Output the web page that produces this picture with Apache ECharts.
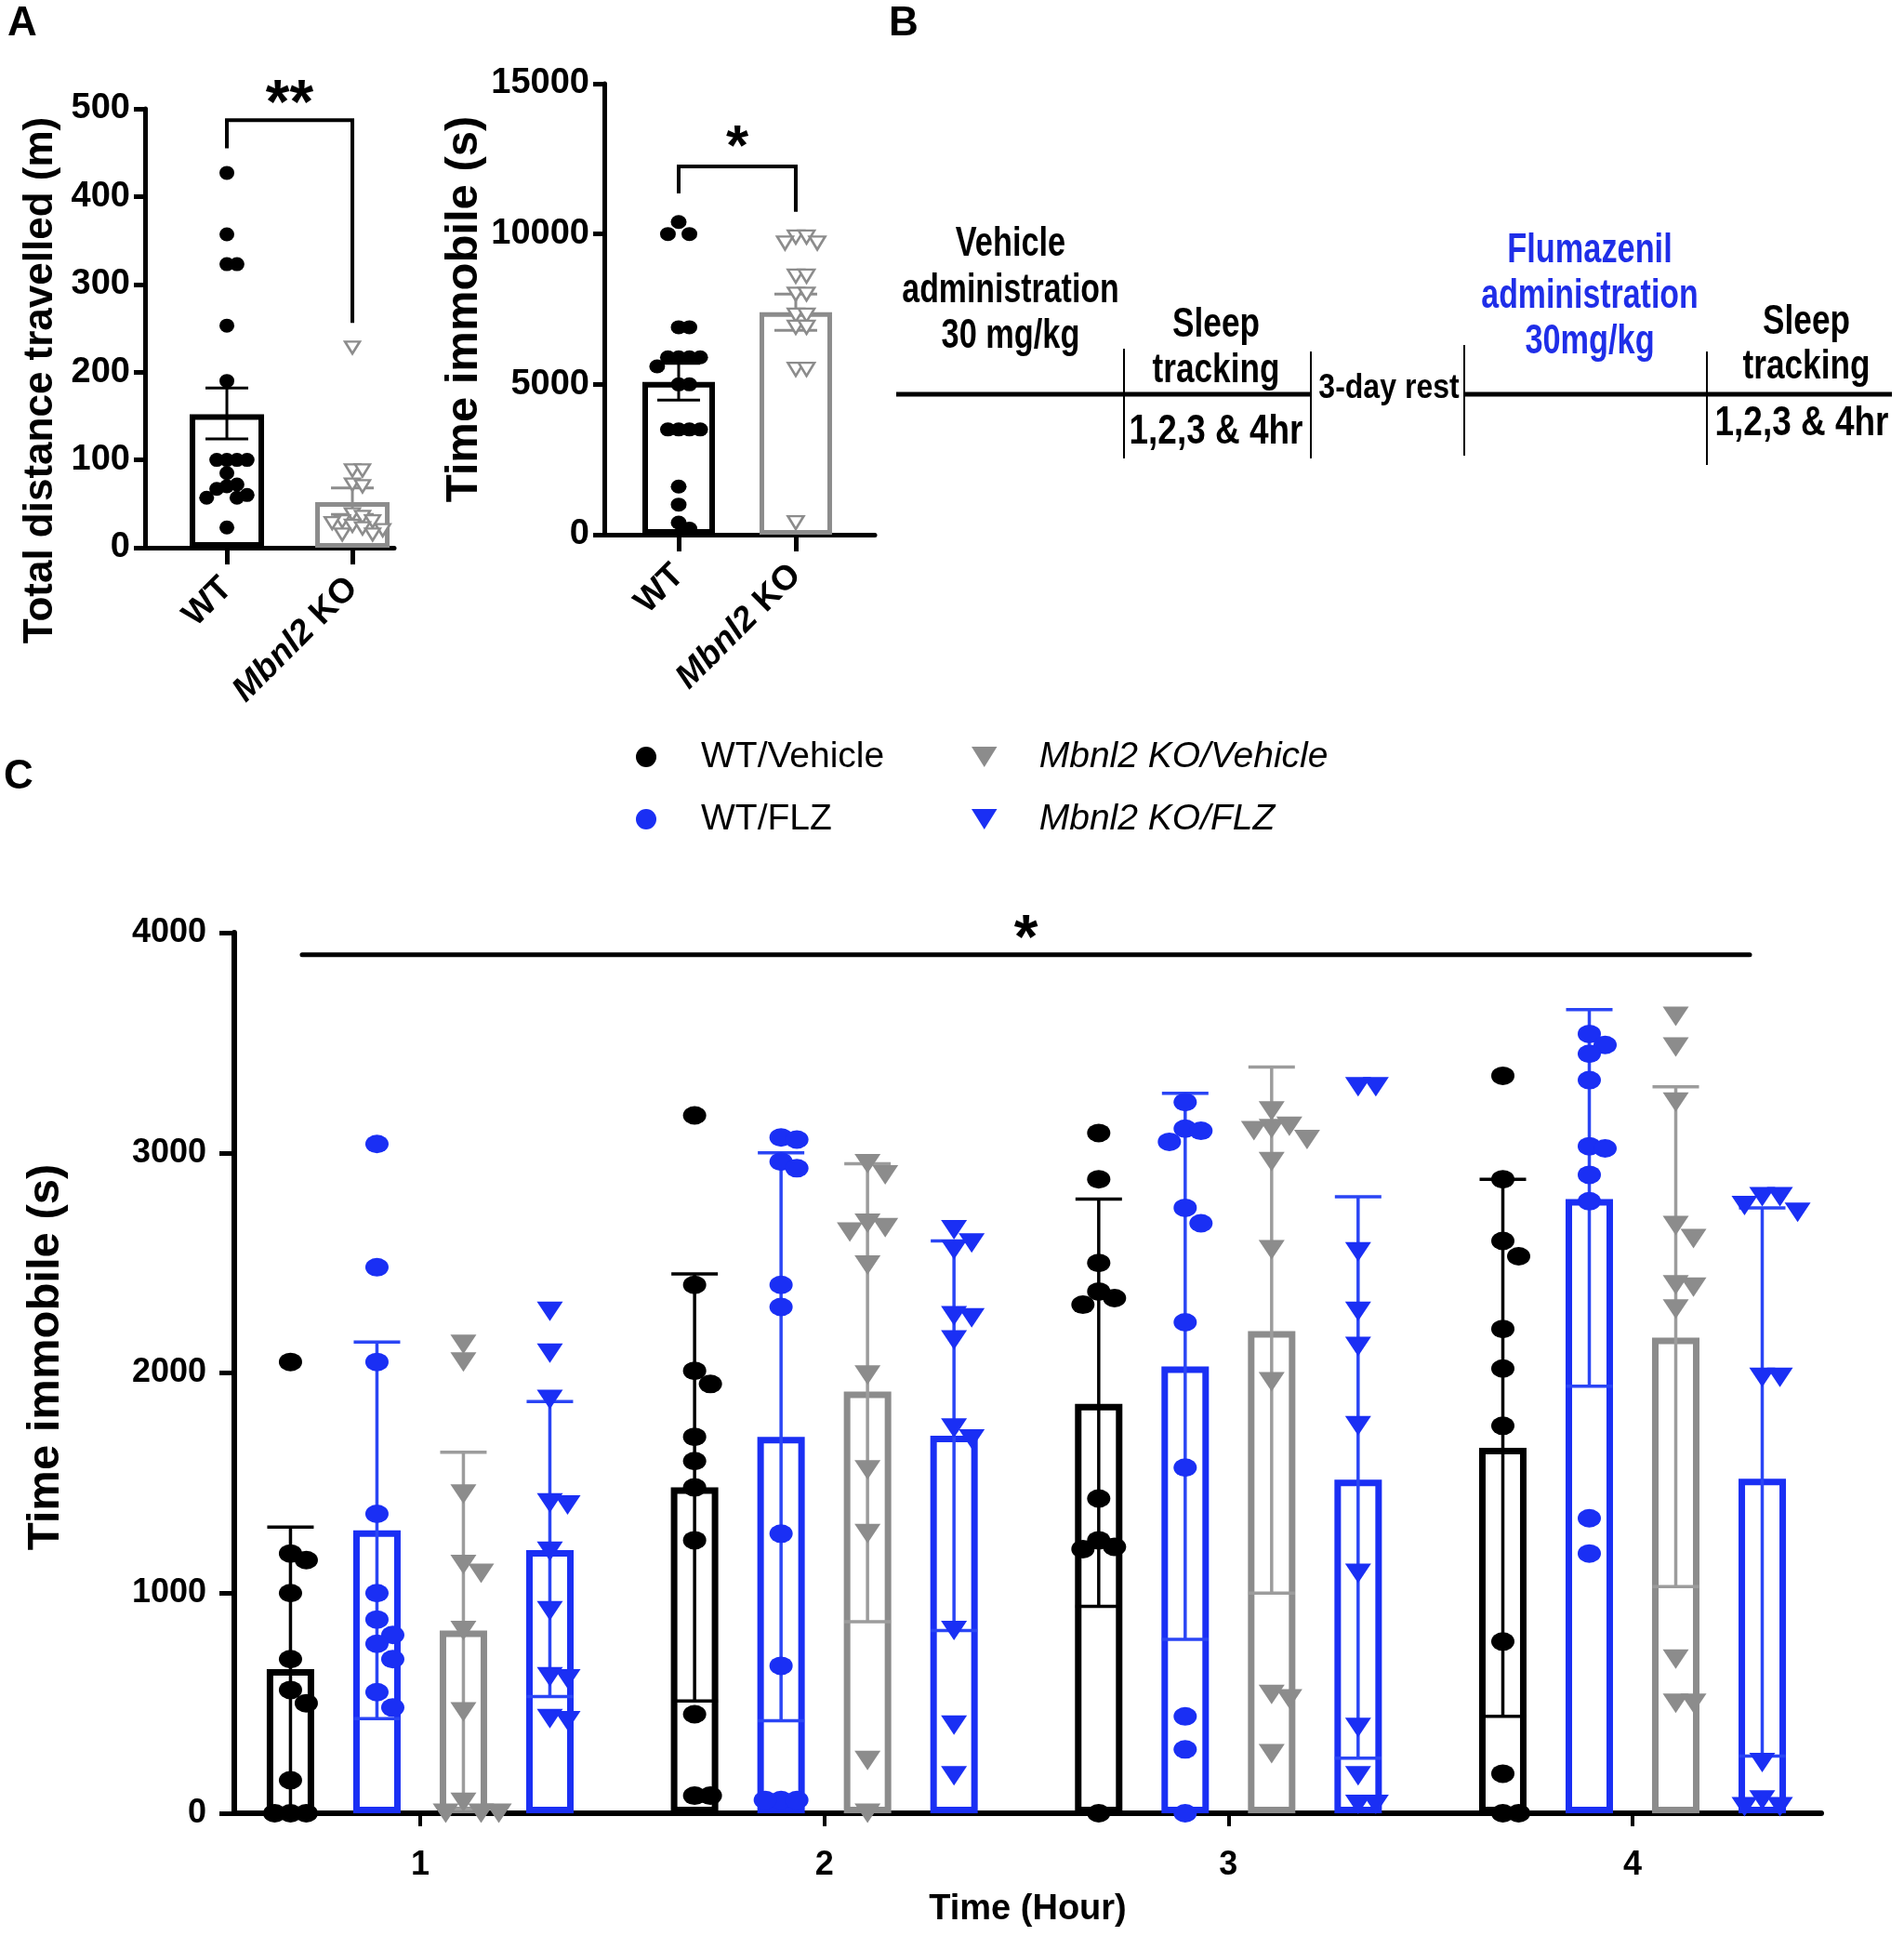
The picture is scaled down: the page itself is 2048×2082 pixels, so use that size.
<!DOCTYPE html>
<html><head><meta charset="utf-8">
<script src="https://cdn.jsdelivr.net/npm/echarts@6/dist/echarts.min.js"></script>
<style>html,body{margin:0;padding:0;background:#fff}#c{width:2048px;height:2082px}</style>
</head><body><div id="c"></div><script>
// ---------- DATA ----------
// Panel A (left): total distance travelled (m)
const distGroups = ['WT', 'Mbnl2 KO'];
const distWT = [427, 357, 323, 323, 253, 190, 100, 100, 100, 100, 85, 72, 70, 67, 60, 57, 57, 23];
const distKO = [228, 88, 88, 72, 70, 38, 35, 30, 30, 28, 25, 22, 20, 15, 15];
const distMean = [152, 52];
const distErrLow = [124, 38];
const distErrHigh = [182, 68];
const distSig = {from: 1, to: 2, top: 487, leftEnd: 455, rightEnd: 256, label: '**'};

// Panel A (right): time immobile (s)
const immGroups = ['WT', 'Mbnl2 KO'];
const immWT = [10400, 10000, 10000, 6900, 6900, 5900, 5900, 5900, 5900, 5600, 5000, 5000, 3500, 3500, 3500, 3500, 1600, 1000, 400, 200];
const immKO = [9900, 9900, 9700, 9700, 8600, 8600, 8000, 8000, 7300, 7300, 6900, 6900, 5500, 5500, 400];
const immMean = [5080, 7400];
const immErrLow = [4480, 6800];
const immErrHigh = [5700, 8000];
const immSig = {from: 1, to: 2, top: 12250, leftEnd: 11350, rightEnd: 10740, label: '*'};

// Panel C: time immobile per hour
const hours = [1, 2, 3, 4];
const groupNames = ['WT/Vehicle', 'WT/FLZ', 'Mbnl2 KO/Vehicle', 'Mbnl2 KO/FLZ'];
const wtVehiclePts = [
  [2050, 1180, 1150, 1000, 700, 560, 500, 150, 0, 0, 0],
  [3170, 2400, 2010, 1950, 1710, 1600, 1480, 1240, 450, 80, 80],
  [3090, 2880, 2500, 2370, 2340, 2310, 1430, 1240, 1210, 1200, 0],
  [3350, 2880, 2600, 2530, 2200, 2020, 1760, 780, 180, 0, 0]
];
const wtFlzPts = [
  [3040, 2480, 2050, 1360, 1000, 880, 810, 770, 700, 550, 480],
  [3070, 3060, 2960, 2930, 2400, 2300, 1270, 670, 60, 60, 60],
  [3230, 3110, 3100, 3050, 2750, 2680, 2230, 1570, 440, 290, 0],
  [3540, 3490, 3450, 3330, 3030, 3020, 2900, 2780, 1340, 1180]
];
const koVehiclePts = [
  [2130, 2050, 1450, 1130, 1090, 830, 460, 50, 0, 0, 0],
  [2950, 2900, 2680, 2660, 2640, 2490, 1990, 1560, 1270, 240, 0],
  [3190, 3120, 3110, 3100, 3060, 2960, 2560, 1960, 540, 520, 270],
  [3620, 3480, 3230, 2670, 2610, 2400, 2390, 2290, 700, 500, 500]
];
const koFlzPts = [
  [2280, 2090, 1880, 1410, 1400, 1190, 920, 620, 610, 430, 420],
  [2650, 2590, 2560, 2260, 2250, 2150, 1750, 1700, 830, 400, 170],
  [3300, 3300, 2550, 2280, 2120, 1760, 1090, 390, 170, 40, 40],
  [2800, 2800, 2760, 2730, 1980, 1980, 230, 60, 30, 30]
];
const wtVehicleMean = [655, 1480, 1860, 1660];
const wtFlzMean = [1285, 1710, 2030, 2790];
const koVehicleMean = [830, 1915, 2190, 2160];
const koFlzMean = [1195, 1715, 1515, 1520];
const wtVehicleErrLow = [10, 510, 940, 440];
const wtVehicleErrHigh = [1300, 2450, 2790, 2880];
const wtFlzErrLow = [430, 420, 790, 1940];
const wtFlzErrHigh = [2140, 3000, 3270, 3650];
const koVehicleErrLow = [20, 870, 1000, 1030];
const koVehicleErrHigh = [1640, 2950, 3390, 3300];
const koFlzErrLow = [530, 830, 250, 260];
const koFlzErrHigh = [1870, 2600, 2800, 2750];
const hourSig = {from: 1, to: 4, top: 3900, label: '*'};

// ---------- STYLE / LAYOUT ----------
const FONT = '"Liberation Sans", Arial, sans-serif';
const BLACK = '#000000', BLUE = '#1a2ff4', GRAY = '#8c8c8c';
const BLUE_ERR = '#2a45f5', GRAY_ERR = '#9c9c9c';
const GA1 = {left: 156, top: 117, width: 268, height: 472};
const GA2 = {left: 650, top: 90, width: 291, height: 485};
const GC = {left: 252, top: 1003, width: 1707, height: 947};
const A1_Y = [0, 500], A2_Y = [0, 15000], C_Y = [0, 4000];
const BAR_W_C = 51, STEP_C = 93;

// simple beeswarm: horizontal pixel offsets so that points do not overlap
function swarm(vals, pxPerUnit, w, h) {
  const order = vals.map((v, i) => i).sort((a, b) => vals[b] - vals[a]);
  const placed = [], off = new Array(vals.length).fill(0);
  const s = w * 0.68;
  for (const i of order) {
    const y = vals[i] * pxPerUnit;
    for (let k = 0; k < 60; k++) {
      const dx = k === 0 ? 0 : (k % 2 ? 1 : -1) * Math.ceil(k / 2) * s;
      if (placed.every(p => Math.abs(p.y - y) >= h * 0.9 || Math.abs(p.x - dx) >= w * 0.66)) {
        off[i] = dx; placed.push({x: dx, y}); break;
      }
    }
  }
  return off;
}
function pointData(x, vals, pxPerUnit, w, h, baseDx) {
  const off = swarm(vals, pxPerUnit, w, h);
  return vals.map((v, i) => ({value: [x, v], symbolOffset: [baseDx + off[i], 0]}));
}
function errRender(dx, color, lw, cap) {
  return function (params, api) {
    const x = api.value(0), lo = api.value(1), hi = api.value(2);
    const a = api.coord([x, lo]), b = api.coord([x, hi]);
    const cx = a[0] + dx;
    const st = {stroke: color, lineWidth: lw};
    return {type: 'group', children: [
      {type: 'line', shape: {x1: cx, y1: a[1], x2: cx, y2: b[1]}, style: st},
      {type: 'line', shape: {x1: cx - cap / 2, y1: b[1], x2: cx + cap / 2, y2: b[1]}, style: st},
      {type: 'line', shape: {x1: cx - cap / 2, y1: a[1], x2: cx + cap / 2, y2: a[1]}, style: st}
    ]};
  };
}
function sigRender(sig, fs, starGap, dxFrom, dxTo, lw) {
  return function (params, api) {
    const pl = api.coord([sig.from, sig.top]);
    const pr = api.coord([sig.to, sig.top]);
    const x1 = pl[0] + dxFrom, x2 = pr[0] + dxTo;
    const ch = [];
    if (sig.leftEnd != null) {
      const yl = api.coord([sig.from, sig.leftEnd])[1];
      const yr = api.coord([sig.to, sig.rightEnd])[1];
      ch.push({type: 'polyline', shape: {points: [[x1, yl], [x1, pl[1]], [x2, pl[1]], [x2, yr]]},
        style: {stroke: '#000', lineWidth: lw, fill: null}});
    } else {
      ch.push({type: 'line', shape: {x1: x1, y1: pl[1], x2: x2, y2: pl[1]}, style: {stroke: '#000', lineWidth: lw, lineCap: 'round'}});
    }
    ch.push({type: 'text', x: (x1 + x2) / 2, y: pl[1] - starGap,
      style: {text: sig.label, fontSize: fs, fontWeight: 'bold', fontFamily: FONT, fill: '#000', align: 'center', verticalAlign: 'middle'}});
    return {type: 'group', children: ch};
  };
}
function axisBase(w) {
  return {
    axisLine: {show: true, onZero: false, lineStyle: {color: '#000', width: w}},
    splitLine: {show: false}
  };
}
const italicize = s => s.replace('Mbnl2', '{i|Mbnl2}');
const plain = v => String(v);
const TRI = 'path://M0,0L20,0L10,16Z';

const series = [];
// ---- Panel A1 ----
const ppuA1 = GA1.height / (A1_Y[1] - A1_Y[0]);
series.push({type: 'bar', name: 'barA1', xAxisIndex: 0, yAxisIndex: 0, barWidth: 80, z: 2,
  data: distMean.map((m, i) => ({value: [i + 1, m], itemStyle: {borderColor: i ? GRAY : BLACK, borderWidth: i ? 5 : 6}})),
  itemStyle: {color: '#fff'}});
series.push({type: 'custom', name: 'errA1', xAxisIndex: 0, yAxisIndex: 0, z: 3,
  data: [[1, distErrLow[0], distErrHigh[0]]], encode: {x: 0, y: [1, 2]}, renderItem: errRender(0, BLACK, 3, 46)});
series.push({type: 'custom', name: 'errA1b', xAxisIndex: 0, yAxisIndex: 0, z: 3,
  data: [[2, distErrLow[1], distErrHigh[1]]], encode: {x: 0, y: [1, 2]}, renderItem: errRender(0, GRAY, 3, 46)});
series.push({type: 'scatter', name: 'ptsA1wt', xAxisIndex: 0, yAxisIndex: 0, z: 4, symbol: 'circle', symbolSize: [16, 15],
  itemStyle: {color: BLACK, opacity: 1}, data: pointData(1, distWT, ppuA1, 16, 15, 0)});
series.push({type: 'scatter', name: 'ptsA1ko', xAxisIndex: 0, yAxisIndex: 0, z: 4, symbol: TRI, symbolSize: [16, 13],
  itemStyle: {color: '#fff', borderColor: GRAY, borderWidth: 2.5, opacity: 1}, data: pointData(2, distKO, ppuA1, 16, 13, 0)});
series.push({type: 'custom', name: 'sigA1', xAxisIndex: 0, yAxisIndex: 0, z: 5, clip: false,
  data: [[distSig.from, distSig.top]], encode: {x: 0, y: 1}, renderItem: sigRender(distSig, 66, 15, 0, 0, 4)});

// ---- Panel A2 ----
const ppuA2 = GA2.height / (A2_Y[1] - A2_Y[0]);
series.push({type: 'bar', name: 'barA2', xAxisIndex: 1, yAxisIndex: 1, barWidth: 78, z: 2,
  data: immMean.map((m, i) => ({value: [i + 1, m], itemStyle: {borderColor: i ? GRAY : BLACK, borderWidth: i ? 5 : 6}})),
  itemStyle: {color: '#fff'}});
series.push({type: 'custom', name: 'errA2', xAxisIndex: 1, yAxisIndex: 1, z: 3,
  data: [[1, immErrLow[0], immErrHigh[0]]], encode: {x: 0, y: [1, 2]}, renderItem: errRender(0, BLACK, 3, 46)});
series.push({type: 'custom', name: 'errA2b', xAxisIndex: 1, yAxisIndex: 1, z: 3,
  data: [[2, immErrLow[1], immErrHigh[1]]], encode: {x: 0, y: [1, 2]}, renderItem: errRender(0, GRAY, 3, 46)});
series.push({type: 'scatter', name: 'ptsA2wt', xAxisIndex: 1, yAxisIndex: 1, z: 4, symbol: 'circle', symbolSize: [17, 15],
  itemStyle: {color: BLACK, opacity: 1}, data: pointData(1, immWT, ppuA2, 17, 15, 0)});
series.push({type: 'scatter', name: 'ptsA2ko', xAxisIndex: 1, yAxisIndex: 1, z: 4, symbol: TRI, symbolSize: [17, 14],
  itemStyle: {color: '#fff', borderColor: GRAY, borderWidth: 2.5, opacity: 1}, data: pointData(2, immKO, ppuA2, 17, 14, 0)});
series.push({type: 'custom', name: 'sigA2', xAxisIndex: 1, yAxisIndex: 1, z: 5, clip: false,
  data: [[immSig.from, immSig.top]], encode: {x: 0, y: 1}, renderItem: sigRender(immSig, 62, 19, 0, 0, 4)});

// ---- Panel C ----
const ppuC = GC.height / (C_Y[1] - C_Y[0]);
const cPts = [wtVehiclePts, wtFlzPts, koVehiclePts, koFlzPts];
const cMean = [wtVehicleMean, wtFlzMean, koVehicleMean, koFlzMean];
const cLo = [wtVehicleErrLow, wtFlzErrLow, koVehicleErrLow, koFlzErrLow];
const cHi = [wtVehicleErrHigh, wtFlzErrHigh, koVehicleErrHigh, koFlzErrHigh];
const cColor = [BLACK, BLUE, GRAY, BLUE];
const cErrColor = [BLACK, BLUE_ERR, GRAY_ERR, BLUE_ERR];
const cSymbol = ['circle', 'circle', TRI, TRI];
const cSize = [[25, 20], [25, 20], [28, 21], [28, 21]];
const barGapPct = ((STEP_C - BAR_W_C) / BAR_W_C * 100).toFixed(1) + '%';
for (let g = 0; g < 4; g++) {
  series.push({type: 'bar', name: 'bar ' + groupNames[g], xAxisIndex: 2, yAxisIndex: 2, z: 2,
    barWidth: BAR_W_C, barGap: barGapPct,
    itemStyle: {color: '#fff', borderColor: cColor[g], borderWidth: 7},
    data: hours.map((h, i) => [h, cMean[g][i]])});
}
for (let g = 0; g < 4; g++) {
  const dx = (g - 1.5) * STEP_C;
  series.push({type: 'custom', name: 'err ' + groupNames[g], xAxisIndex: 2, yAxisIndex: 2, z: 3,
    data: hours.map((h, i) => [h, cLo[g][i], cHi[g][i]]), encode: {x: 0, y: [1, 2]},
    renderItem: errRender(dx, cErrColor[g], 3.5, 50)});
}
for (let g = 0; g < 4; g++) {
  const dx = (g - 1.5) * STEP_C;
  let data = [];
  hours.forEach((h, i) => { data = data.concat(pointData(h, cPts[g][i], ppuC, cSize[g][0], cSize[g][1], dx)); });
  series.push({type: 'scatter', name: groupNames[g], xAxisIndex: 2, yAxisIndex: 2, z: 4, clip: false,
    symbol: cSymbol[g], symbolSize: cSize[g], itemStyle: {color: cColor[g], opacity: 1}, data});
}
series.push({type: 'custom', name: 'sigC', xAxisIndex: 2, yAxisIndex: 2, z: 5, clip: false,
  data: [[hourSig.from, hourSig.top]], encode: {x: 0, y: 1}, renderItem: sigRender(hourSig, 66, 15, -127, 126, 5)});

// ---------- PANEL B (diagram) ----------
function btxt(text, x, y, fs, sx, color) {
  return {type: 'text', x: x, y: y, scaleX: sx, style: {text: text, fontSize: fs, fontWeight: 'bold', fontFamily: FONT,
    fill: color || '#000', align: 'center', verticalAlign: 'middle'}};
}
function bline(x1, y1, x2, y2, w) {
  return {type: 'line', shape: {x1, y1, x2, y2}, style: {stroke: '#000', lineWidth: w}};
}
const FLZ_BLUE = '#1f2ee8';
const graphic = [
  {type: 'text', x: 8, y: 26, style: {text: 'A', fontSize: 44, fontWeight: 'bold', fontFamily: FONT, fill: '#000', verticalAlign: 'middle'}},
  {type: 'text', x: 956, y: 26, style: {text: 'B', fontSize: 44, fontWeight: 'bold', fontFamily: FONT, fill: '#000', verticalAlign: 'middle'}},
  {type: 'text', x: 4, y: 836, style: {text: 'C', fontSize: 44, fontWeight: 'bold', fontFamily: FONT, fill: '#000', verticalAlign: 'middle'}},
  bline(964, 424, 1410, 424, 5),
  bline(1575, 424, 2035, 424, 5),
  bline(1209, 375, 1209, 493, 2),
  bline(1410, 378, 1410, 493, 2),
  bline(1575, 371, 1575, 490, 2),
  bline(1836, 378, 1836, 500, 2),
  btxt('Vehicle', 1087, 263, 44, 0.78),
  btxt('administration', 1087, 313, 44, 0.77),
  btxt('30 mg/kg', 1087, 362, 44, 0.78),
  btxt('Sleep', 1308, 350, 44, 0.8),
  btxt('tracking', 1308, 399, 44, 0.8),
  btxt('1,2,3 & 4hr', 1308, 465, 44, 0.84),
  btxt('3-day rest', 1494, 418, 36, 0.89),
  btxt('Flumazenil', 1710, 270, 44, 0.78, FLZ_BLUE),
  btxt('administration', 1710, 319, 44, 0.77, FLZ_BLUE),
  btxt('30mg/kg', 1710, 368, 44, 0.78, FLZ_BLUE),
  btxt('Sleep', 1943, 347, 44, 0.8),
  btxt('tracking', 1943, 395, 44, 0.8),
  btxt('1,2,3 & 4hr', 1938, 456, 44, 0.84)
];

// ---------- AXES ----------
const richI = {i: {fontStyle: 'italic', fontWeight: 'bold', fontSize: 37, fontFamily: FONT, color: '#000'}};
const xAxis = [
  Object.assign(axisBase(5), {gridIndex: 0, type: 'value', min: 0.348, max: 2.333,
    axisTick: {show: true, customValues: [1, 2], length: 18, lineStyle: {color: '#000', width: 5}},
    axisLabel: {customValues: [1, 2], rotate: 45, margin: 38, fontSize: 37, fontWeight: 'bold', fontFamily: FONT, color: '#000',
      formatter: v => italicize(distGroups[Math.round(v) - 1] || ''), rich: richI}}),
  Object.assign(axisBase(5), {gridIndex: 1, type: 'value', min: 0.365, max: 2.675,
    axisTick: {show: true, customValues: [1, 2], length: 18, lineStyle: {color: '#000', width: 5}},
    axisLabel: {customValues: [1, 2], rotate: 45, margin: 38, fontSize: 37, fontWeight: 'bold', fontFamily: FONT, color: '#000',
      formatter: v => italicize(immGroups[Math.round(v) - 1] || ''), rich: richI}}),
  Object.assign(axisBase(6), {gridIndex: 2, type: 'value', min: 0.54, max: 4.467,
    axisTick: {show: true, customValues: hours, length: 14, lineStyle: {color: '#000', width: 4}},
    axisLabel: {customValues: hours, margin: 38, fontSize: 36, fontWeight: 'bold', fontFamily: FONT, color: '#000', formatter: plain},
    name: 'Time (Hour)', nameLocation: 'middle', nameGap: 85,
    nameTextStyle: {fontSize: 38, fontWeight: 'bold', fontFamily: FONT, color: '#000'}})
];
const yAxis = [
  Object.assign(axisBase(5), {gridIndex: 0, type: 'value', min: A1_Y[0], max: A1_Y[1], interval: 100,
    axisTick: {show: true, length: 12, lineStyle: {color: '#000', width: 5}},
    axisLabel: {margin: 16, fontSize: 38, fontWeight: 'bold', fontFamily: FONT, color: '#000', formatter: plain},
    name: 'Total distance travelled (m)', nameLocation: 'middle', nameGap: 90,
    nameTextStyle: {fontSize: 44, fontWeight: 'bold', fontFamily: FONT, color: '#000', padding: [0, 112, 0, 0]}}),
  Object.assign(axisBase(5), {gridIndex: 1, type: 'value', min: A2_Y[0], max: A2_Y[1], interval: 5000,
    axisTick: {show: true, length: 12, lineStyle: {color: '#000', width: 5}},
    axisLabel: {margin: 16, fontSize: 38, fontWeight: 'bold', fontFamily: FONT, color: '#000', formatter: plain},
    name: 'Time immobile (s)', nameLocation: 'middle', nameGap: 100,
    nameTextStyle: {fontSize: 49, fontWeight: 'bold', fontFamily: FONT, color: '#000'}}),
  Object.assign(axisBase(6), {gridIndex: 2, type: 'value', min: C_Y[0], max: C_Y[1], interval: 1000,
    axisTick: {show: true, length: 16, lineStyle: {color: '#000', width: 5}},
    axisLabel: {margin: 30, fontSize: 36, fontWeight: 'bold', fontFamily: FONT, color: '#000', formatter: plain},
    name: 'Time immobile (s)', nameLocation: 'middle', nameGap: 178,
    nameTextStyle: {fontSize: 49, fontWeight: 'bold', fontFamily: FONT, color: '#000', padding: [0, 0, 0, 34]}})
];

const legend = [
  {orient: 'vertical', left: 679, top: 789, itemWidth: 108, itemHeight: 22, itemGap: 27, symbolKeepAspect: true,
   selectedMode: false, textStyle: {fontSize: 39, lineHeight: 40, fontFamily: FONT, color: '#000'},
   data: [{name: groupNames[0], icon: 'circle'}, {name: groupNames[1], icon: 'circle'}]},
  {orient: 'vertical', left: 1040, top: 789, itemWidth: 108, itemHeight: 22, itemGap: 27, symbolKeepAspect: true,
   selectedMode: false, textStyle: {fontSize: 39, lineHeight: 40, fontFamily: FONT, color: '#000', fontStyle: 'italic'},
   data: [{name: groupNames[2], icon: TRI}, {name: groupNames[3], icon: TRI}]}
];

const chart = echarts.init(document.getElementById('c'), null, {renderer: 'canvas'});
chart.setOption({
  animation: false,
  backgroundColor: '#fff',
  textStyle: {fontFamily: FONT},
  grid: [GA1, GA2, GC],
  xAxis, yAxis, legend, graphic, series
});
</script></body></html>
